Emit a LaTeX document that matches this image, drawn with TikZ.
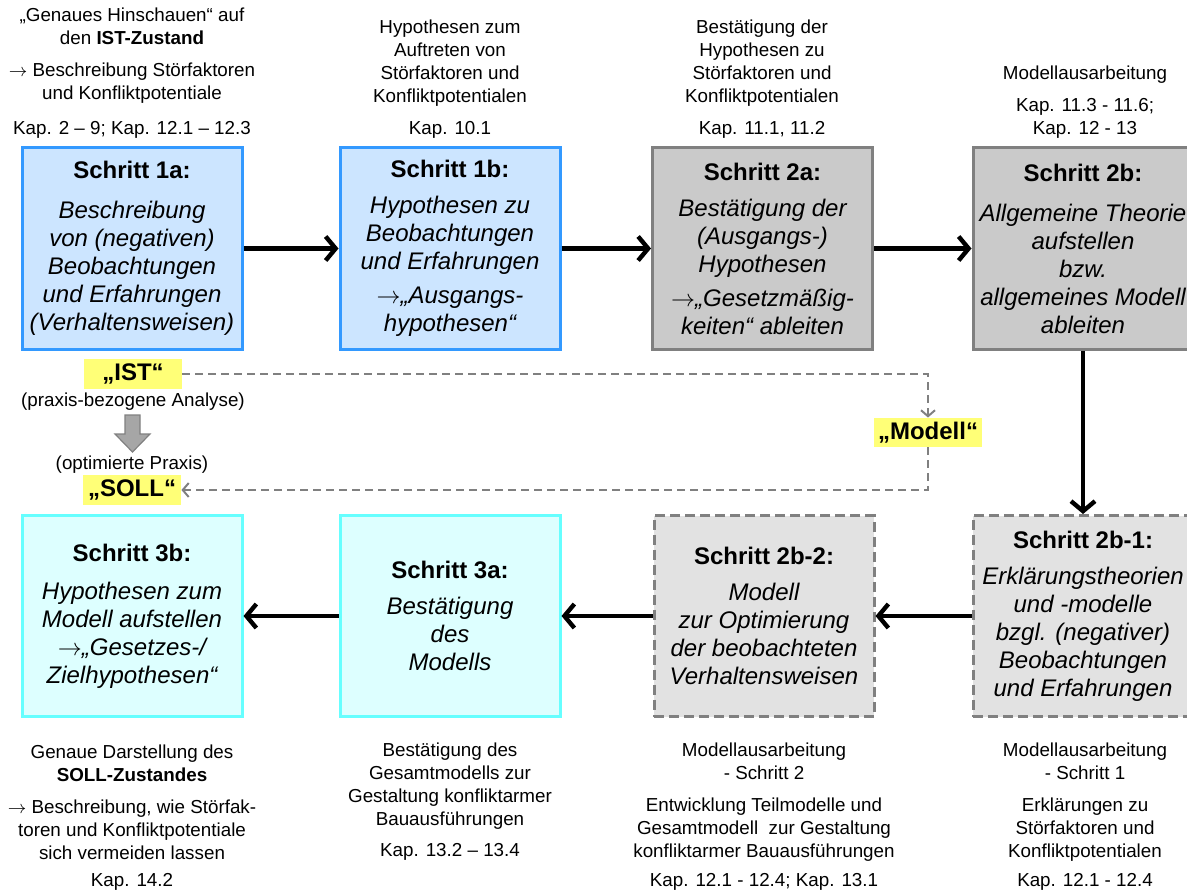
\documentclass[tikz,border=0pt]{standalone}
\usepackage{fontspec}
\setmainfont{Liberation Sans}
\usepackage{xcolor}
\usepackage{tikz}
\usetikzlibrary{arrows.meta}
\definecolor{blaurand}{HTML}{3399FF}
\definecolor{blaufill}{HTML}{CCE5FF}
\definecolor{graurand}{HTML}{808080}
\definecolor{graufill}{HTML}{CACACA}
\definecolor{hellgrau}{HTML}{E2E2E2}
\definecolor{tuerkisrand}{HTML}{66FFFF}
\definecolor{tuerkisfill}{HTML}{DDFFFF}
\definecolor{gelb}{HTML}{FFFF77}
\definecolor{blockgrau}{HTML}{A6A6A6}
\tikzset{
  schritt/.style={draw, line width=1.5pt, minimum width=110pt, minimum height=100.5pt,
    align=center, inner sep=0pt, font=\itshape\fontsize{12}{14}\selectfont},
  blaubox/.style={schritt, draw=blaurand, fill=blaufill},
  graubox/.style={schritt, draw=graurand, fill=graufill},
  strichbox/.style={schritt, draw=graurand, fill=hellgrau, dash pattern=on 5pt off 2.5pt},
  tuerkisbox/.style={schritt, draw=tuerkisrand, fill=tuerkisfill},
  pfeil/.style={line width=2.2pt, -{Straight Barb[length=5pt,width=12pt]}},
  strichpfeil/.style={draw=graurand, line width=1pt, dash pattern=on 4pt off 2.5pt,
    -{Straight Barb[length=3pt,width=7pt]}},
  marke/.style={fill=gelb, inner sep=2pt, minimum height=15pt,
    font=\bfseries\fontsize{12}{14}\selectfont},
  txt/.style={align=center, inner sep=0pt, font=\fontsize{9.4}{11.5}\selectfont}
}
\newcommand{\titel}[1]{\textbf{\upshape #1}}
\begin{document}
\begin{tikzpicture}[x=0.5pt, y=-0.5pt]
    \useasboundingbox (0,0) rectangle (1187,893);

    % Schritte oben
    \node[blaubox] (s1a) at (132,248.5) {\titel{Schritt 1a:}\\[6pt]Beschreibung\\von (negativen)\\Beobachtungen\\und Erfahrungen\\(Verhaltensweisen)};
    \node[blaubox] (s1b) at (450,248.5) {\titel{Schritt 1b:}\\[4pt]Hypothesen zu\\Beobachtungen\\und Erfahrungen\\[3pt]$\rightarrow$„Ausgangs-\\hypothesen“};
    \node[graubox] (s2a) at (762.5,248.5) {\titel{Schritt 2a:}\\[4pt]Bestätigung der\\(Ausgangs-)\\Hypothesen\\[3pt]$\rightarrow$„Gesetzmäßig-\\keiten“ ableiten};
    \node[graubox] (s2b) at (1083,248.5) {\titel{Schritt 2b:}\\[6pt]Allgemeine Theorie\\aufstellen\\bzw.\\allgemeines Modell\\ableiten};

    % Schritte unten
    \node[tuerkisbox] (s3b) at (132,616) {\titel{Schritt 3b:}\\[5pt]Hypothesen zum\\Modell aufstellen\\$\rightarrow$„Gesetzes-/\\Zielhypothesen“};
    \node[tuerkisbox] (s3a) at (450,616) {\titel{Schritt 3a:}\\[4pt]Bestätigung\\des\\Modells};
    \node[strichbox] (s2bii) at (764,616) {\titel{Schritt 2b-2:}\\[4pt]Modell\\zur Optimierung\\der beobachteten\\Verhaltensweisen};
    \node[strichbox] (s2bi) at (1083,616) {\titel{Schritt 2b-1:}\\[4pt]Erklärungstheorien\\und -modelle\\bzgl. (negativer)\\Beobachtungen\\und Erfahrungen};

    % Pfeile zwischen den Schritten
    \draw[pfeil] (s1a) -- (s1b);
    \draw[pfeil] (s1b) -- (s2a);
    \draw[pfeil] (s2a) -- (s2b);
    \draw[pfeil] (s2b) -- (s2bi);
    \draw[pfeil] (s2bi) -- (s2bii);
    \draw[pfeil] (s2bii) -- (s3a);
    \draw[pfeil] (s3a) -- (s3b);

    % IST - Modell - SOLL
    \node[marke, minimum width=49pt] (ist) at (133,374) {„IST“};
    \node[txt] (praxis) at (133,402) {(praxis-bezogene Analyse)};
    \node[txt] (optim) at (132,465) {(optimierte Praxis)};
    \node[marke, minimum width=49pt] (soll) at (132,490) {„SOLL“};
    \node[marke, minimum height=14.5pt] (modell) at (928,432.5) {„Modell“};
    \draw[strichpfeil] (ist.east) -| (modell.north);
    \draw[strichpfeil] (modell.south) |- (soll.east);

    % Blockpfeil IST -> SOLL
    \draw[draw=graurand, fill=blockgrau, line width=0.6pt]
        (125,415) -- (140,415) -- (140,434) -- (150,434) -- (132.5,452)
        -- (115,434) -- (125,434) -- cycle;

    % Texte oben
    \node[txt] (t1a) at (132,56) {„Genaues Hinschauen“ auf\\den \textbf{IST-Zustand}\\[4.5pt]$\rightarrow$ Beschreibung Störfaktoren\\und Konfliktpotentiale};
    \node[txt] (k1a) at (132,130) {Kap. 2 – 9; Kap. 12.1 – 12.3};
    \node[txt] (t1b) at (450,63) {Hypothesen zum\\Auftreten von\\Störfaktoren und\\Konfliktpotentialen};
    \node[txt] (k1b) at (450,130) {Kap. 10.1};
    \node[txt] (t2a) at (762,63) {Bestätigung der\\Hypothesen zu\\Störfaktoren und\\Konfliktpotentialen};
    \node[txt] (k2a) at (762,130) {Kap. 11.1, 11.2};
    \node[txt] (t2b) at (1085,75) {Modellausarbeitung};
    \node[txt] (k2b) at (1085,118.5) {Kap. 11.3 - 11.6;\\Kap. 12 - 13};

    % Texte unten
    \node[txt] (t3b) at (132,802) {Genaue Darstellung des\\\textbf{SOLL-Zustandes}\\[4.5pt]$\rightarrow$ Beschreibung, wie Störfak-\\toren und Konfliktpotentiale\\sich vermeiden lassen};
    \node[txt] (k3b) at (132,882) {Kap. 14.2};
    \node[txt] (t3a) at (450,786.5) {Bestätigung des\\Gesamtmodells zur\\Gestaltung konfliktarmer\\Bauausführungen};
    \node[txt] (k3a) at (450,852) {Kap. 13.2 – 13.4};
    \node[txt] (t2bii) at (764,802) {Modellausarbeitung\\- Schritt 2\\[4.5pt]Entwicklung Teilmodelle und\\Gesamtmodell\ \ zur Gestaltung\\konfliktarmer Bauausführungen};
    \node[txt] (k2bii) at (764,882) {Kap. 12.1 - 12.4; Kap. 13.1};
    \node[txt] (t2bi) at (1085,802) {Modellausarbeitung\\- Schritt 1\\[4.5pt]Erklärungen zu\\Störfaktoren und\\Konfliktpotentialen};
    \node[txt] (k2bi) at (1085,882) {Kap. 12.1 - 12.4};

\end{tikzpicture}
\end{document}
